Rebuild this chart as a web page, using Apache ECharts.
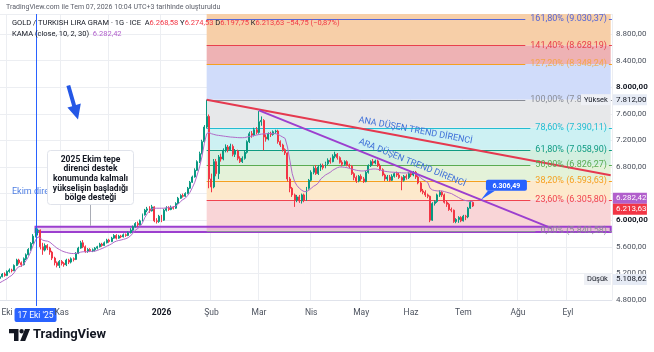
<!DOCTYPE html>
<html><head><meta charset="utf-8">
<script src="https://cdn.jsdelivr.net/npm/echarts@6/dist/echarts.min.js"></script>
<style>html,body{margin:0;padding:0;background:#fff}#c{width:654px;height:352px}</style>
</head><body><div id="c"></div>
<script>
// ---------- DATA ----------
const holidays = ['2025-12-25', '2026-01-01', '2026-04-03'];
const monthNames = ['Oca','Şub','Mar','Nis','May','Haz','Tem','Ağu','Eyl','Eki','Kas','Ara'];
const crosshairIndex = 15;
const crosshairLabel = "17 Eki '25";
// [open, close, low, high]
const candles = [
[5125,5150,5108.62,5165],[5150,5190,5140,5205],[5190,5170,5150,5215],[5170,5230,5160,5245],[5230,5250,5210,5275],
[5250,5240,5215,5270],[5240,5320,5235,5335],[5320,5400,5310,5420],[5400,5360,5335,5420],[5360,5330,5300,5380],
[5330,5420,5320,5440],[5420,5480,5400,5500],[5480,5560,5470,5580],[5560,5650,5540,5670],[5650,5760,5640,5790],
[5760,5840,5740,5880],[5840,5850,5770,5875],[5850,5600,5560,5860],[5600,5550,5480,5660],[5550,5620,5530,5650],
[5620,5580,5550,5640],[5580,5520,5480,5600],[5520,5430,5400,5540],[5430,5360,5320,5450],[5360,5320,5290,5380],
[5320,5380,5280,5400],[5380,5350,5320,5400],[5350,5330,5300,5370],[5330,5400,5310,5420],[5400,5370,5340,5420],
[5370,5420,5350,5440],[5420,5410,5380,5440],[5410,5500,5400,5520],[5500,5580,5490,5600],[5580,5660,5570,5690],
[5660,5600,5580,5700],[5600,5530,5510,5620],[5530,5560,5510,5580],[5560,5540,5520,5580],[5540,5555,5520,5575],
[5555,5580,5530,5595],[5580,5600,5560,5615],[5600,5640,5590,5660],[5640,5620,5600,5660],[5620,5660,5610,5680],
[5660,5700,5650,5720],[5700,5680,5660,5720],[5680,5730,5670,5750],[5730,5770,5720,5790],[5770,5730,5710,5790],
[5730,5760,5720,5780],[5760,5750,5730,5780],[5750,5780,5740,5800],[5780,5770,5750,5800],[5770,5810,5760,5830],
[5810,5850,5800,5880],[5850,5900,5840,5920],[5900,5950,5890,5970],[5950,5930,5900,5980],[5930,5990,5920,6010],
[5990,6080,5980,6100],[6080,6150,6070,6170],[6150,6170,6120,6200],[6170,6140,6110,6210],[6140,6200,6130,6230],
[6200,5990,5970,6210],[5990,5980,5950,6030],[5980,6060,5960,6080],[6060,6000,5970,6080],[6000,6150,5990,6170],
[6150,6180,6130,6210],[6180,6160,6140,6210],[6160,6190,6150,6220],[6190,6180,6160,6210],[6180,6250,6170,6270],
[6250,6330,6240,6350],[6330,6370,6320,6390],[6370,6360,6340,6400],[6360,6400,6350,6420],[6400,6480,6390,6500],
[6480,6570,6470,6590],[6570,6650,6560,6670],[6650,6750,6640,6780],[6750,6880,6740,6900],[6880,7000,6860,7030],
[7000,7180,6990,7210],[7180,7400,7160,7430],[7400,7560,7380,7812],[7560,6620,6480,7590],[6620,6500,6420,6700],
[6500,6880,6480,6920],[6880,6700,6660,6920],[6700,6950,6620,6980],[6950,6920,6880,7000],[6920,7050,6900,7080],
[7050,7100,7020,7140],[7100,7060,7020,7130],[7060,7110,7040,7150],[7110,6990,6960,7140],[6990,7040,6950,7070],
[7040,6930,6900,7060],[6930,6880,6860,6960],[6880,6930,6860,6960],[6930,7020,6910,7050],[7020,7180,7000,7200],
[7180,7300,7160,7330],[7300,7280,7240,7340],[7280,7360,7260,7390],[7360,7320,7290,7400],[7320,7480,7300,7640],
[7480,7500,7420,7560],[7500,7250,7050,7520],[7250,7220,7180,7290],[7220,7300,7200,7320],[7300,7290,7250,7330],
[7290,7330,7270,7350],[7330,7340,7300,7360],[7340,7180,7150,7360],[7180,7130,7100,7200],[7130,7060,7030,7150],
[7060,7010,6980,7080],[7010,6620,6580,7020],[6620,6480,6420,6650],[6480,6380,6350,6500],[6380,6300,6200,6400],
[6300,6350,6270,6380],[6350,6290,6260,6380],[6290,6380,6250,6400],[6380,6300,6270,6400],[6300,6480,6290,6500],
[6480,6600,6460,6620],[6600,6720,6580,6750],[6720,6780,6690,6810],[6780,6700,6680,6830],[6700,6800,6680,6830],
[6800,6820,6740,6850],[6820,6790,6760,6850],[6790,6850,6780,6880],[6850,6900,6830,6930],[6900,6880,6850,6940],
[6880,6960,6870,6990],[6960,6990,6930,7030],[6990,6940,6910,7010],[6940,6870,6850,6960],[6870,6840,6810,6900],
[6840,6880,6820,6900],[6880,6830,6810,6900],[6830,6810,6780,6850],[6810,6700,6680,6830],[6700,6640,6600,6720],
[6640,6590,6560,6670],[6590,6660,6570,6680],[6660,6620,6590,6690],[6620,6580,6560,6650],[6580,6720,6570,6740],
[6720,6820,6700,6840],[6820,6880,6800,6900],[6880,6860,6830,6920],[6860,6890,6840,6910],[6890,6820,6800,6910],
[6820,6760,6740,6850],[6760,6680,6660,6780],[6680,6620,6590,6700],[6620,6650,6590,6680],[6650,6600,6580,6680],
[6600,6660,6590,6690],[6660,6700,6640,6720],[6700,6680,6650,6730],[6680,6640,6620,6710],[6640,6600,6450,6660],
[6600,6660,6580,6680],[6660,6640,6610,6690],[6640,6700,6620,6720],[6700,6680,6650,6730],[6680,6720,6660,6740],
[6720,6650,6620,6740],[6650,6560,6540,6670],[6560,6440,6420,6580],[6440,6420,6390,6470],[6420,6380,6350,6450],
[6380,6360,6330,6400],[6360,6000,5970,6370],[6000,6250,5990,6270],[6250,6280,6220,6300],[6280,6380,6260,6400],
[6380,6420,6350,6450],[6420,6380,6350,6440],[6380,6270,6250,6400],[6270,6240,6200,6300],[6240,6160,6140,6260],
[6160,6150,6120,6190],[6150,5980,5960,6160],[5980,6010,5955,6030],[6010,6040,5960,6060],[6040,5990,5970,6060],
[5990,6060,5980,6080],[6060,6050,6000,6080],[6050,6180,6030,6200],[6180,6268.38,6170,6290],[6268.58,6213.63,6197.75,6274.53]
];
const kama = [
5060,5080,5100,5120,5150,5170,5210,5270,5300,5310,5340,5390,5450,5530,5620,5700,5750,
5730,5700,5690,5685,5670,5640,5610,5580,
5560,5540,5525,5515,5505,5500,5498,5500,5505,5520,5525,5525,5527,5530,5532,5535,5545,5560,5575,5590,5610,5625,5645,5670,5685,5695,5702,5712,5722,5738,5765,5805,5850,5875,5905,
5960,6040,6100,6140,6170,6180,6180,6180,
6180,6180,6185,6190,6195,6200,6210,6240,6280,6310,6330,6370,6420,6490,6570,6680,6800,6950,7150,7300,
7320,7300,7290,7280,7275,7270,7265,7260,7255,7250,7248,7245,7242,7240,7240,7242,7250,7258,7265,7272,7280,7288,7294,7298,7300,7302,7304,7305,7300,7290,7270,7250,
7230,7100,6900,6700,6580,6520,6480,6450,6430,6430,6450,6480,6510,6530,6560,
6620,6650,6680,6700,6720,6750,6770,6790,6800,6800,6795,6790,6780,6770,6760,6750,6745,6740,6740,6745,6755,6765,6770,6770,6765,6755,6745,6735,6730,6725,6722,6720,6718,6715,6712,6710,6710,6712,6712,6712,
6690,6670,6640,6610,6590,6570,6480,6455,6445,6440,6440,6440,6430,6420,6410,6400,6380,6360,
6340,6320,6305,6295,6288,6284,6282.42
];
const fibStartIndex = 87;
const fibRatios = ['161,80%','141,40%','127,20%','100,00%','78,60%','61,80%','50,00%','38,20%','23,60%','0,00%'];
const fibLevels = [9030.37, 8628.19, 8348.24, 7812.00, 7390.11, 7058.90, 6826.27, 6593.63, 6305.80, 5840.58];
const trendMain = [[87, 7812], [257, 6676]];
const trendSub = [[109, 7652], [232, 5880]];
const supportBox = [[15, 5901], [257, 5822]];
const calloutValue = 6306.49;
const rangeHigh = 7812.00, rangeLow = 5108.62;
const yTicks = {min: 4800, max: 9100, step: 400};

// ---------- STYLE ----------
const FONT = 'Roboto, "Noto Sans", sans-serif';
const UP = '#089981', DOWN = '#f23645';
const fibLineColors = ['#5565d6','#e8414e','#f5a020','#8a8d96','#22bcd2','#0f9b82','#5aac52','#f5a020','#f0444f','#8a8d96'];
const fibLabelColors = ['#5565d6','#e8414e','rgba(245,160,32,0.7)','#8a8d96','#22bcd2','#0f9b82','#5aac52','#f5a020','#f0444f','#8a8d96'];
const zoneColors = ['#f7cfa8','#eeb2b4','#d0dcfa','#e7e8ea','#cdf1f3','#d3efdf','#e4f2d9','#fde9cc','#f9d5d7'];

// ---------- HELPERS ----------
function fmtTR(v){ const s = Math.abs(v).toFixed(2).split('.'); return (v<0?'−':'') + s[0].replace(/\B(?=(\d{3})+(?!\d))/g,'.') + ',' + s[1]; }
const dates = [];
for (let d = new Date(Date.UTC(2025,8,26)); d.getTime() <= Date.UTC(2026,8,25); d.setUTCDate(d.getUTCDate()+1)) {
  const w = d.getUTCDay(); const iso = d.toISOString().slice(0,10);
  if (w===0 || w===6 || holidays.includes(iso)) continue;
  dates.push(iso);
}
const labelAt = {}; const monthStarts = new Set();
dates.forEach((iso,i)=>{
  if (i===0) return;
  if (iso.slice(0,7) !== dates[i-1].slice(0,7)) {
    const mo = +iso.slice(5,7);
    monthStarts.add(i);
    labelAt[i] = mo===1 ? '{b|'+iso.slice(0,4)+'}' : monthNames[mo-1];
  }
});
labelAt[crosshairIndex] = '{hl|'+crosshairLabel+'}';
const last = dates.length - 1;

const zoneData = [];
for (let k=0;k<zoneColors.length;k++){
  const top = k===0 ? yTicks.max : fibLevels[k];
  const bot = fibLevels[k+1];
  zoneData.push([{xAxis: fibStartIndex, yAxis: top, itemStyle:{color: zoneColors[k]}}, {xAxis: last, yAxis: bot}]);
}

const chart = echarts.init(document.getElementById('c'), null, {width:654, height:352});
const option = {
  animation: false,
  backgroundColor: '#ffffff',
  textStyle: {fontFamily: FONT},
  grid: {left: -1.3, right: 42.1, top: 14, bottom: 52, outerBoundsMode: 'none', containLabel: false},
  xAxis: {
    type: 'category', data: dates, boundaryGap: true,
    axisLine: {show: true, lineStyle: {color: '#e0e3eb'}},
    axisTick: {show: false},
    axisLabel: {
      interval: (i)=> labelAt[i] !== undefined,
      formatter: (v,i)=> labelAt[i] || '',
      fontSize: 8.5, color: '#4c525e', margin: 8, fontFamily: FONT, hideOverlap: false,
      rich: {
        b: {fontWeight: 'bold', color: '#131722', fontSize: 8.5, fontFamily: FONT},
        hl: {backgroundColor: '#2962ff', color: '#ffffff', fontSize: 8.5, padding: [3,3,2,3], borderRadius: 2, fontFamily: FONT}
      }
    },
    splitLine: {show: true, interval: (i)=> monthStarts.has(i), lineStyle: {color: '#eceef2'}}
  },
  yAxis: {
    type: 'value', position: 'right', min: yTicks.min, max: yTicks.max, interval: yTicks.step, scale: true,
    axisLine: {show: false}, axisTick: {show: false},
    splitLine: {show: true, lineStyle: {color: '#eceef2'}},
    axisLabel: {
      showMaxLabel: false, showMinLabel: false, margin: 4, fontSize: 8, color: '#4c525e', fontFamily: FONT,
      formatter: (v)=> v===6400 ? '' : (v%2000===0 ? '{b|'+fmtTR(v)+'}' : fmtTR(v)),
      rich: {b: {fontWeight: 'bold', color: '#131722', fontSize: 8, fontFamily: FONT}}
    }
  },
  series: [
    {type: 'line', name: 'fibZones', data: [], z: 1, silent: true,
     markArea: {silent: true, data: zoneData}},
    {type: 'candlestick', name: 'GOLD/TRY', data: candles, z: 3, barWidth: '62%',
     itemStyle: {color: UP, color0: DOWN, borderColor: UP, borderColor0: DOWN, borderWidth: 1}},
    {type: 'line', name: 'KAMA', data: kama, z: 4, symbol: 'none', silent: true,
     lineStyle: {color: '#b06ac8', width: 1}},
    {type: 'line', name: 'ana', data: trendMain, z: 5, symbol: 'none', silent: true,
     lineStyle: {color: '#e5394f', width: 2}},
    {type: 'line', name: 'ara', data: trendSub, z: 5, symbol: 'none', silent: true,
     lineStyle: {color: '#9c3fcf', width: 2}},
    {type: 'line', name: 'band', data: [], z: 7, silent: true,
     markArea: {silent: true, itemStyle: {color: 'rgba(186,104,200,0.25)', borderColor: '#9c3fcf', borderWidth: 2},
       data: [[{xAxis: supportBox[0][0], yAxis: supportBox[0][1]}, {xAxis: supportBox[1][0], yAxis: supportBox[1][1]}]]}}
  ]
};
chart.setOption(option);

// ---------- OVERLAYS ----------
const cvs = document.createElement('canvas').getContext('2d');
function tw(t, size, weight){ cvs.font = (weight||'normal')+' '+size+'px '+FONT; return cvs.measureText(t).width; }
const px = (i,v)=> chart.convertToPixel({gridIndex:0}, [i, v]);
const bandW = px(1,5000)[0] - px(0,5000)[0];
const plotRight = px(last,5000)[0] + bandW/2;
const G = [];
const snap = y => Math.round(y) + 0.5;

// bottom price label (axis minimum)
G.push({type:'text', z:6, silent:true, x: plotRight+4, y: px(0, yTicks.min)[1], style:{text: fmtTR(yTicks.min), align:'left', verticalAlign:'middle', fill:'#4c525e', fontSize: 8, fontFamily: FONT}});

// crosshair vertical line at 17 Eki
(function(){
  const x = snap(px(crosshairIndex, 5000)[0]);
  const yT = px(0, yTicks.max)[1], yB = px(0, yTicks.min)[1];
  G.push({type:'line', z:6, silent:true, shape:{x1:x, y1:yT, x2:x, y2:yB+6}, style:{stroke:'#2962ff', lineWidth:1}});
})();

// fib lines + labels
fibLevels.forEach((lv,k)=>{
  const p = px(fibStartIndex, lv); const y = snap(p[1]);
  const txt = fibRatios[k] + ' (' + fmtTR(lv) + ')';
  const xr = plotRight - 5;
  const w = tw(txt, 9);
  G.push({type:'line', z:2, silent:true, shape:{x1:p[0], y1:y, x2:xr-w-5, y2:y}, style:{stroke: fibLineColors[k], lineWidth:1}});
  G.push({type:'line', z:2, silent:true, shape:{x1:xr+2, y1:y, x2:plotRight, y2:y}, style:{stroke: fibLineColors[k], lineWidth:1}});
  G.push({type:'text', z:6, silent:true, x: xr, y: p[1], style:{text: txt, align:'right', verticalAlign:'middle', fill: fibLabelColors[k], fontSize: 9, fontFamily: FONT}});
});

// trend line labels
function onLine(seg, xPix, off){
  const a = px(seg[0][0], seg[0][1]), b = px(seg[1][0], seg[1][1]);
  const ang = Math.atan2(b[1]-a[1], b[0]-a[0]);
  const t = (xPix - a[0]) / (b[0]-a[0]);
  const y = a[1] + t*(b[1]-a[1]);
  return {x: xPix + Math.sin(ang)*off, y: y - Math.cos(ang)*off, rot: -ang};
}
const ana = onLine(trendMain, 414, 8);
G.push({type:'text', z:8, silent:true, x: ana.x, y: ana.y, rotation: ana.rot, style:{text:'ANA DÜŞEN TREND DİRENCİ', align:'center', verticalAlign:'middle', fill:'#3d6fd8', fontSize: 9, fontFamily: FONT}});
const ara = onLine(trendSub, 409, 8.5);
G.push({type:'text', z:8, silent:true, x: ara.x, y: ara.y, rotation: ara.rot, style:{text:'ARA DÜŞEN TREND DİRENCİ', align:'center', verticalAlign:'middle', fill:'#3d6fd8', fontSize: 9, fontFamily: FONT}});

// callout at intersection of ARA line with the 23.6% level
(function(){
  const s = trendSub; const t = (calloutValue - s[0][1])/(s[1][1]-s[0][1]);
  const idx = s[0][0] + t*(s[1][0]-s[0][0]);
  const i0 = Math.floor(idx);
  const p = px(i0, calloutValue); const x = p[0] + (idx-i0)*bandW, y = p[1];
  const L = x + 5, T = y - 20, W = 41, H = 11;
  G.push({type:'polygon', z:12, silent:true, shape:{points:[[x,y],[L+2,T+H],[L+9,T+H]]}, style:{fill:'#2962ff'}});
  G.push({type:'rect', z:12, silent:true, shape:{x:L, y:T, width:W, height:H, r:2}, style:{fill:'#2962ff'}});
  G.push({type:'text', z:13, silent:true, x: L+W/2, y: T+H/2+0.5, style:{text: fmtTR(calloutValue), align:'center', verticalAlign:'middle', fill:'#fff', fontSize:7, fontWeight:'bold', fontFamily: FONT}});
})();

// price axis badges
function badge(y, text, bg, fg, bold){
  G.push({type:'rect', z:14, silent:true, shape:{x: plotRight+1, y: y-5.5, width: 34, height: 11}, style:{fill: bg}});
  G.push({type:'text', z:15, silent:true, x: plotRight+4, y: y, style:{text, align:'left', verticalAlign:'middle', fill: fg, fontSize: 8, fontWeight: bold?'bold':'normal', fontFamily: FONT}});
}
function tag(y, text){
  const w = tw(text, 7.5) + 6;
  G.push({type:'rect', z:14, silent:true, shape:{x: plotRight-1-w, y: y-5.5, width: w, height: 11}, style:{fill:'#eef0f5'}});
  G.push({type:'text', z:15, silent:true, x: plotRight-1-w/2, y: y, style:{text, align:'center', verticalAlign:'middle', fill:'#131722', fontSize: 7.5, fontFamily: FONT}});
}
const yHigh = px(0, rangeHigh)[1], yLow = px(0, rangeLow)[1];
badge(yHigh, fmtTR(rangeHigh), '#e6ebf5', '#131722');
tag(yHigh, 'Yüksek');
badge(yLow, fmtTR(rangeLow), '#e6ebf5', '#131722');
tag(yLow, 'Düşük');
const lastC = candles[candles.length-1], prevC = candles[candles.length-2];
const lastK = kama[kama.length-1];
let yK = px(0, lastK)[1], yC = px(0, lastC[1])[1];
if (yC - yK < 10.5) { const m = (yK+yC)/2; yK = m - 5.5; yC = m + 5.5; }
badge(yK, fmtTR(lastK), '#b15fcc', '#ffffff');
badge(yC, fmtTR(lastC[1]), '#f23645', '#ffffff');

// header
const chg = lastC[1] - prevC[1], pct = chg / prevC[1] * 100;
G.push({type:'text', z:20, silent:true, x: 6, y: 7, style:{text:'TradingView.com ile Tem 07, 2026 10:04 UTC+3 tarihinde oluşturuldu', verticalAlign:'middle', fill:'#5d606b', fontSize: 7, fontFamily: FONT}});
G.push({type:'text', z:20, silent:true, x: 12, y: 23, style:{
  text: '{d|GOLD / TURKISH LIRA GRAM · 1G · ICE}  {d|A}{r|'+fmtTR(lastC[0])+'} {d|Y}{r|'+fmtTR(lastC[3])+'} {d|D}{r|'+fmtTR(lastC[2])+'} {d|K}{r|'+fmtTR(lastC[1])+'} {r|'+fmtTR(chg)+' ('+fmtTR(pct).replace(/0$/,'')+'%)}',
  verticalAlign:'middle', fontSize: 7.5, fontFamily: FONT,
  rich: {d:{fill:'#131722', fontSize:7.5, fontFamily: FONT}, r:{fill:'#f23645', fontSize:7.5, fontFamily: FONT}}}});
G.push({type:'text', z:20, silent:true, x: 12, y: 34, style:{
  text: '{d|KAMA (close, 10, 2, 30)}  {p|'+fmtTR(lastK)+'}', verticalAlign:'middle', fontSize:7.5, fontFamily: FONT,
  rich: {d:{fill:'#131722', fontSize:7.5, fontFamily: FONT}, p:{fill:'#b15fcc', fontSize:7.5, fontFamily: FONT}}}});

// Ekim direnci text + annotation box
G.push({type:'text', z:16, silent:true, x: 12, y: 192, style:{text:'Ekim direnci', verticalAlign:'middle', fill:'#4f7fe3', fontSize: 9, fontFamily: FONT}});
const bandTopY = px(0, supportBox[0][1])[1];
G.push({type:'line', z:16, silent:true, shape:{x1: 90.5, y1: 204, x2: 90.5, y2: bandTopY-1}, style:{stroke:'#a9acb5', lineWidth: 1}});
G.push({type:'rect', z:17, silent:true, shape:{x: 47.5, y: 150.5, width: 86, height: 54, r: 3}, style:{fill:'#ffffff', stroke:'#e0e3eb', lineWidth: 1}});
['2025 Ekim tepe','direnci destek','konumunda kalmalı','yükselişin başladığı','bölge desteği'].forEach((t,k)=>{
  G.push({type:'text', z:18, silent:true, x: 90.5, y: 159.5 + k*9.7, style:{text:t, align:'center', verticalAlign:'middle', fill:'#131722', fontSize: 8.5, fontWeight:'bold', fontFamily: FONT}});
});
// blue arrow
G.push({type:'polygon', z:16, silent:true, shape:{points:[[70.2,84.9],[76,105],[80.8,103.6],[78,119.5],[67.4,107.6],[72.2,106.2],[66.4,86.1]]}, style:{fill:'#2457e6'}});

// TradingView logo
G.push({type:'polygon', z:20, silent:true, shape:{points:[[9,329],[18.5,329],[18.5,341],[14,341],[14,333.2],[9,333.2]]}, style:{fill:'#131722'}});
G.push({type:'circle', z:20, silent:true, shape:{cx: 21.6, cy: 331.2, r: 2.2}, style:{fill:'#131722'}});
G.push({type:'polygon', z:20, silent:true, shape:{points:[[25,329],[30,329],[25.2,341],[20.2,341]]}, style:{fill:'#131722'}});
G.push({type:'text', z:20, silent:true, x: 33, y: 335, style:{text:'TradingView', verticalAlign:'middle', fill:'#131722', fontSize: 13, fontWeight:'bold', fontFamily: FONT}});

chart.setOption({graphic: {elements: G}});
</script></body></html>
